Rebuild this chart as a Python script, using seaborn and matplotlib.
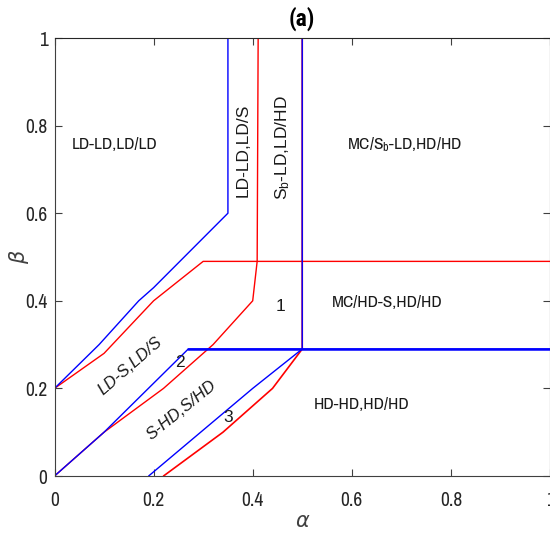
import matplotlib
matplotlib.use("Agg")
import matplotlib.pyplot as plt
import seaborn as sns
import pandas as pd

# ---- data ----
blue_upper_x = [0.0, 0.09, 0.17, 0.20, 0.35, 0.35]
blue_upper_y = [0.20, 0.30, 0.40, 0.43, 0.60, 1.00]
red_upper_x = [0.0, 0.10, 0.20, 0.30, 1.00]
red_upper_y = [0.20, 0.28, 0.40, 0.49, 0.49]
blue_mid_x = [0.0, 0.10, 0.27, 1.00]
blue_mid_y = [0.0, 0.10, 0.29, 0.29]
red_mid_x = [0.0, 0.10, 0.22, 0.32, 0.40, 0.409, 0.411]
red_mid_y = [0.0, 0.10, 0.20, 0.30, 0.40, 0.49, 1.00]
blue_low_x = [0.19, 0.40, 0.50, 0.50]
blue_low_y = [0.0, 0.20, 0.29, 1.00]
red_low_x = [0.22, 0.34, 0.44, 0.50, 0.50]
red_low_y = [0.0, 0.10, 0.20, 0.29, 1.00]
blue_hline_x = [0.27, 1.00]
blue_hline_y = [0.29, 0.29]

ticks = [0, 0.2, 0.4, 0.6, 0.8, 1]
tick_labels = ["0", "0.2", "0.4", "0.6", "0.8", "1"]

sns.set_theme(style="white")
NARROW = ["Archivo Narrow", "Roboto Condensed", "Liberation Sans", "DejaVu Sans"]
COND_BOLD = ["Roboto Condensed", "Archivo Narrow", "Liberation Sans", "DejaVu Sans"]
REG = ["Liberation Sans", "DejaVu Sans"]
plt.rcParams["font.family"] = NARROW
plt.rcParams["mathtext.default"] = "regular"

fig = plt.figure(figsize=(5.5, 5.33), dpi=100)
ax = fig.add_axes([54.5 / 550, 57 / 533, 495.5 / 550, 438 / 533])

def draw(xs, ys, color, lw):
    df = pd.DataFrame({"x": xs, "y": ys})
    sns.lineplot(data=df, x="x", y="y", sort=False, estimator=None,
                 color=color, linewidth=lw, ax=ax)

RED = "#ff0000"
BLUE = "#0000ff"
draw(red_upper_x, red_upper_y, RED, 1.0)
draw(red_mid_x, red_mid_y, RED, 1.0)
draw(red_low_x, red_low_y, RED, 1.2)
draw(blue_upper_x, blue_upper_y, BLUE, 1.0)
draw(blue_mid_x, blue_mid_y, BLUE, 1.0)
draw(blue_low_x, blue_low_y, BLUE, 1.0)
draw(blue_hline_x, blue_hline_y, BLUE, 1.8)

ax.set_xlim(0, 1)
ax.set_ylim(0, 1)
ax.set_xticks(ticks)
ax.set_xticklabels(tick_labels)
ax.set_yticks(ticks)
ax.set_yticklabels(tick_labels)
axc = "#404040"
ax.tick_params(direction="in", length=5, width=0.8, color=axc,
               labelsize=14, labelcolor="#262626",
               top=True, right=True, bottom=True, left=True)
ax.tick_params(axis="x", pad=11)
ax.tick_params(axis="y", pad=5)
for s in ax.spines.values():
    s.set_visible(True)
    s.set_color(axc)
    s.set_linewidth(0.8)
ax.spines["top"].set_color("#262626")

ax.set_xlabel(r"$\mathit{\alpha}$", fontsize=15, color="#404040", labelpad=1,
              family=REG)
ax.set_ylabel(r"$\mathit{\beta}$", fontsize=15, color="#404040", labelpad=-4,
              family=REG)
ax.set_title("(a)", fontsize=17, fontweight="bold", pad=9, color="black",
             family=COND_BOLD)

tc = "#1a1a1a"
ax.text(0.122, 0.756, "LD-LD,LD/LD", fontsize=12.5, ha="center", va="center", color=tc)
ax.text(0.381, 0.744, "LD-LD,LD/S", fontsize=12.5, ha="center", va="center",
        rotation=90, family=REG, color=tc)
ax.text(0.461, 0.749, "S$_{b}$-LD,LD/HD", fontsize=12.5, ha="center", va="center",
        rotation=90, family=REG, color=tc)
ax.text(0.707, 0.756, "MC/S$_{b}$-LD,HD/HD", fontsize=12.5, ha="center", va="center", color=tc)
ax.text(0.671, 0.395, "MC/HD-S,HD/HD", fontsize=12.5, ha="center", va="center", color=tc)
ax.text(0.620, 0.164, "HD-HD,HD/HD", fontsize=12.5, ha="center", va="center", color=tc)
ax.text(0.457, 0.386, "1", fontsize=12.5, ha="center", va="center", family=REG, color=tc)
ax.text(0.253, 0.259, "2", fontsize=12.5, ha="center", va="center", family=REG, color=tc)
ax.text(0.350, 0.134, "3", fontsize=12.5, ha="center", va="center", family=REG, color=tc)
ax.text(0.152, 0.250, "LD-S,LD/S", fontsize=12, ha="center", va="center",
        rotation=41, style="italic", family=REG, color=tc, rotation_mode="anchor")
ax.text(0.257, 0.151, "S-HD,S/HD", fontsize=12, ha="center", va="center",
        rotation=39, style="italic", family=REG, color=tc, rotation_mode="anchor")

fig.savefig("out.png", dpi=100)
